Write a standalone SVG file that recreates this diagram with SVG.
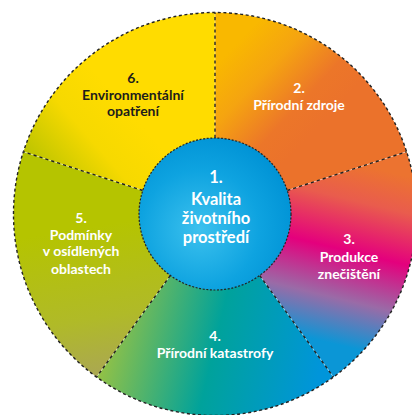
<svg xmlns="http://www.w3.org/2000/svg" width="412" height="415" viewBox="0 0 412 415">
  <defs>
    <linearGradient id="g6" gradientUnits="userSpaceOnUse" x1="40" y1="170" x2="120" y2="100">
      <stop offset="0" stop-color="#BCC400"/>
      <stop offset="0.55" stop-color="#F6D900"/>
      <stop offset="1" stop-color="#FFDC00"/>
    </linearGradient>
    <linearGradient id="g2" gradientUnits="userSpaceOnUse" x1="235" y1="45" x2="320" y2="125">
      <stop offset="0" stop-color="#F9B800"/>
      <stop offset="0.35" stop-color="#F5A410"/>
      <stop offset="0.75" stop-color="#EC7629"/>
      <stop offset="1" stop-color="#EB722B"/>
    </linearGradient>
    <linearGradient id="g3" gradientUnits="userSpaceOnUse" x1="360" y1="165" x2="318" y2="340">
      <stop offset="0" stop-color="#EC7330"/>
      <stop offset="0.2" stop-color="#E95C4D"/>
      <stop offset="0.48" stop-color="#E4007D"/>
      <stop offset="0.75" stop-color="#9A6BA7"/>
      <stop offset="1" stop-color="#0B96D6"/>
    </linearGradient>
    <linearGradient id="g4" gradientUnits="userSpaceOnUse" x1="110" y1="320" x2="320" y2="370">
      <stop offset="0" stop-color="#95C244"/>
      <stop offset="0.5" stop-color="#00A29B"/>
      <stop offset="1" stop-color="#0095DA"/>
    </linearGradient>
    <linearGradient id="g5" gradientUnits="userSpaceOnUse" x1="70" y1="230" x2="95" y2="380">
      <stop offset="0" stop-color="#B5C400"/>
      <stop offset="0.6" stop-color="#B0BA28"/>
      <stop offset="1" stop-color="#AAA655"/>
    </linearGradient>
    <radialGradient id="g1" cx="0.4" cy="0.6" r="0.65">
      <stop offset="0" stop-color="#3CC1EE"/>
      <stop offset="0.6" stop-color="#0EA3E0"/>
      <stop offset="1" stop-color="#0092D5"/>
    </radialGradient>
  </defs>
  <style>
    .t { font-family: Lato, "Open Sans", "Liberation Sans", sans-serif; font-weight: 700; font-size: 14px; text-anchor: middle; fill: #ffffff; }
    .dk { fill: #1d1d1b; }
    .big { font-size: 16.5px; }
    .edge { fill: none; stroke: #222222; stroke-width: 1.4; stroke-dasharray: 3 2.6; }
    .div-under { stroke: #ffffff; stroke-opacity: 0.55; stroke-width: 0.8; fill: none; }
    .div { stroke: #222222; stroke-width: 1.4; stroke-dasharray: 3.2 3; fill: none; }
    .inner { stroke: #222222; stroke-width: 1.2; stroke-dasharray: 2 1.6; }
  </style>

  <g id="node-6">
    <path d="M215,214 L23.36,151.73 A201.5,201.5 0 0 1 215,12.5 Z" fill="url(#g6)"/>
    <text class="t dk" x="133" y="83">6.</text>
    <text class="t dk" x="133" y="99.5">Environmentální</text>
    <text class="t dk" x="133" y="115.5">opatření</text>
  </g>
  <g id="node-2">
    <path d="M215,214 L215,12.5 A201.5,201.5 0 0 1 406.64,151.73 Z" fill="url(#g2)"/>
    <text class="t" x="299" y="92.7">2.</text>
    <text class="t" x="299" y="109.5">Přírodní zdroje</text>
  </g>
  <g id="node-3">
    <path d="M215,214 L406.64,151.73 A201.5,201.5 0 0 1 333.44,377.02 Z" fill="url(#g3)"/>
    <text class="t" x="349" y="244">3.</text>
    <text class="t" x="349" y="261.7">Produkce</text>
    <text class="t" x="349" y="279">znečištění</text>
  </g>
  <g id="node-4">
    <path d="M215,214 L333.44,377.02 A201.5,201.5 0 0 1 96.56,377.02 Z" fill="url(#g4)"/>
    <text class="t" x="215" y="341">4.</text>
    <text class="t" x="215" y="358">Přírodní katastrofy</text>
  </g>
  <g id="node-5">
    <path d="M215,214 L96.56,377.02 A201.5,201.5 0 0 1 23.36,151.73 Z" fill="url(#g5)"/>
    <text class="t" x="81" y="222.7">5.</text>
    <text class="t" x="81" y="239.7">Podmínky</text>
    <text class="t" x="81" y="256">v osídlených</text>
    <text class="t" x="81" y="273.5">oblastech</text>
  </g>

  <circle cx="215" cy="214" r="201.5" class="edge"/>

  <g id="connectors">
    <path class="div-under" d="M215,138 L215,12.5 M287.28,190.51 L406.64,151.73 M259.67,275.49 L333.44,377.02 M170.33,275.49 L96.56,377.02 M142.72,190.51 L23.36,151.73"/>
    <path class="div" d="M215,138 L215,12.5 M287.28,190.51 L406.64,151.73 M259.67,275.49 L333.44,377.02 M170.33,275.49 L96.56,377.02 M142.72,190.51 L23.36,151.73"/>
  </g>

  <g id="node-1">
    <circle cx="215" cy="214" r="76" fill="url(#g1)" class="inner"/>
    <text class="t big" x="216" y="183.3">1.</text>
    <text class="t big" x="216" y="205">Kvalita</text>
    <text class="t big" x="216" y="224">životního</text>
    <text class="t big" x="216" y="242.7">prostředí</text>
  </g>
</svg>
